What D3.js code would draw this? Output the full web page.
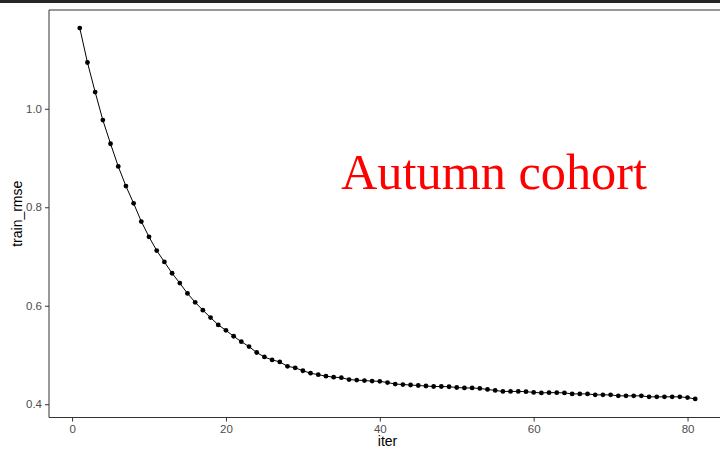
<!DOCTYPE html>
<html>
<head>
<meta charset="utf-8">
<script src="https://cdn.jsdelivr.net/npm/d3@7"></script>
<style>
  html, body { margin: 0; padding: 0; background: #fff; }
  svg { display: block; }
</style>
</head>
<body>
<svg id="chart" width="720" height="454"></svg>
<script>
// Training RMSE per iteration
const trainRmse = [
  1.164, 1.094, 1.034, 0.977, 0.929, 0.883, 0.843, 0.808, 0.771, 0.740,
  0.712, 0.689, 0.666, 0.646, 0.625, 0.607, 0.591, 0.576, 0.561, 0.550,
  0.538, 0.527, 0.517, 0.505, 0.496, 0.490, 0.486, 0.477, 0.474, 0.468,
  0.463, 0.460, 0.457, 0.455, 0.454, 0.450, 0.449, 0.448, 0.447, 0.4465,
  0.444, 0.441, 0.440, 0.439, 0.438, 0.437, 0.436, 0.436, 0.4355, 0.434,
  0.433, 0.433, 0.432, 0.430, 0.428, 0.426, 0.426, 0.426, 0.4255, 0.424,
  0.423, 0.4235, 0.4235, 0.423, 0.421, 0.421, 0.421, 0.419, 0.419, 0.419,
  0.417, 0.417, 0.417, 0.417, 0.415, 0.415, 0.415, 0.415, 0.415, 0.4135,
  0.4107
];
const xTicks = [0, 20, 40, 60, 80];
const yTicks = [0.4, 0.6, 0.8, 1.0];
const annotation = "Autumn cohort";
const xTitle = "iter";
const yTitle = "train_rmse";

const data = trainRmse.map((v, i) => ({ iter: i + 1, rmse: v }));

const svg = d3.select("#chart");

// window title strip
svg.append("rect").attr("x", 0).attr("y", 0).attr("width", 720).attr("height", 3).attr("fill", "#262626");

const panel = { left: 49, top: 10, right: 726, bottom: 417.5 };

// ggplot-style 5% expansion around the data range
function expand(ext) {
  const pad = (ext[1] - ext[0]) * 0.05;
  return [ext[0] - pad, ext[1] + pad];
}
const x = d3.scaleLinear()
  .domain(expand(d3.extent(data, d => d.iter)))
  .range([panel.left, panel.right]);
const y = d3.scaleLinear()
  .domain(expand(d3.extent(data, d => d.rmse)))
  .range([panel.bottom, panel.top - 0.5]);

// panel border
svg.append("line").attr("x1", panel.left).attr("x2", panel.right)
  .attr("y1", panel.top).attr("y2", panel.top).attr("stroke", "#333").attr("stroke-width", 1);
svg.append("line").attr("x1", panel.left).attr("x2", panel.left)
  .attr("y1", panel.top).attr("y2", panel.bottom).attr("stroke", "#333").attr("stroke-width", 1);
svg.append("line").attr("x1", panel.left).attr("x2", panel.right)
  .attr("y1", panel.bottom).attr("y2", panel.bottom).attr("stroke", "#333").attr("stroke-width", 1);

// axes
const font = "'Liberation Sans', Arial, sans-serif";
const xAxis = svg.append("g")
  .attr("transform", `translate(0,${panel.bottom})`)
  .call(d3.axisBottom(x).tickValues(xTicks).tickSize(4).tickPadding(3).tickFormat(d3.format("d")));
const yAxis = svg.append("g")
  .attr("transform", `translate(${panel.left},0)`)
  .call(d3.axisLeft(y).tickValues(yTicks).tickSize(4).tickPadding(3).tickFormat(d3.format(".1f")));
[xAxis, yAxis].forEach(g => {
  g.select(".domain").remove();
  g.selectAll(".tick line").attr("stroke", "#333");
  g.selectAll(".tick text").attr("fill", "#4d4d4d")
    .style("font-family", font).style("font-size", "11.5px");
});

svg.append("text")
  .attr("x", (panel.left + panel.right) / 2).attr("y", 446)
  .attr("text-anchor", "middle")
  .style("font-family", font).style("font-size", "14px").attr("fill", "#000")
  .text(xTitle);
svg.append("text")
  .attr("transform", `translate(22,${(panel.top + panel.bottom) / 2}) rotate(-90)`)
  .attr("text-anchor", "middle")
  .style("font-family", font).style("font-size", "14px").attr("fill", "#000")
  .text(yTitle);

// line and points
svg.append("path")
  .datum(data)
  .attr("fill", "none")
  .attr("stroke", "#000")
  .attr("stroke-width", 1)
  .attr("d", d3.line().x(d => x(d.iter)).y(d => y(d.rmse)));

svg.append("g").selectAll("circle")
  .data(data)
  .join("circle")
  .attr("cx", d => x(d.iter))
  .attr("cy", d => y(d.rmse))
  .attr("r", 2.4)
  .attr("fill", "#000");

// annotation
svg.append("text")
  .attr("x", 494).attr("y", 189)
  .attr("text-anchor", "middle")
  .style("font-family", "'Liberation Serif', 'Times New Roman', serif")
  .style("font-size", "50.3px")
  .attr("fill", "#ff0000")
  .text(annotation);
</script>
</body>
</html>
